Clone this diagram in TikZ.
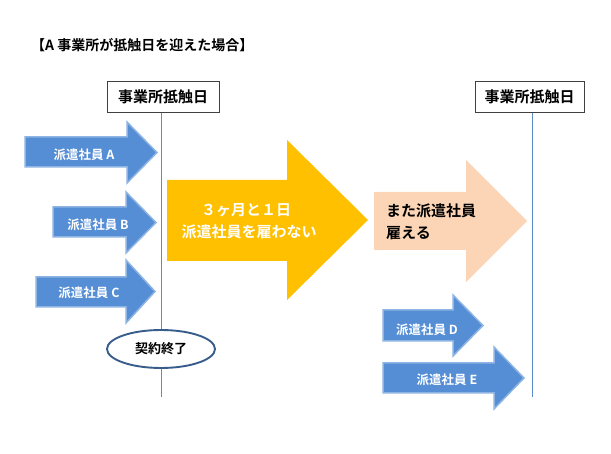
\documentclass[tikz,border=0pt]{standalone}
\usepackage{fontspec}
\usetikzlibrary{shapes.geometric}
\newfontfamily\jp{Noto Sans CJK JP}[BoldFont={Noto Sans CJK JP Bold}]
\definecolor{arrowblue}{HTML}{558ED5}
\definecolor{arrowedge}{HTML}{8EB4E3}
\definecolor{gold}{HTML}{FFC000}
\definecolor{peach}{HTML}{FBD5B5}
\definecolor{lineblue}{HTML}{5B8BC9}
\definecolor{ellblue}{HTML}{385D8A}
\newcommand\harrow[8]{\draw[#1] (#2,#3) -- (#5,#3) -- (#5,#6) -- (#8,{(#6+#7)/2}) -- (#5,#7) -- (#5,#4) -- (#2,#4) -- cycle;}
\tikzset{
  bluearr/.style={fill=arrowblue, draw=arrowedge, line width=1.5pt, line join=miter},
  goldarr/.style={fill=gold, draw=none},
  peacharr/.style={fill=peach, draw=none},
  small/.style={font=\jp\bfseries\fontsize{12.5}{14}\selectfont, text=white, inner sep=0pt},
  bigtxt/.style={font=\jp\bfseries\fontsize{15}{17}\selectfont, inner sep=0pt},
  datebox/.style={draw=black!75, line width=0.9pt, fill=white, minimum height=31pt, inner sep=0pt, font=\jp\bfseries\fontsize{15}{17}\selectfont},
  vline/.style={draw=lineblue, line width=0.9pt},
}
\begin{document}
\begin{tikzpicture}[x=1pt,y=-1pt]
\useasboundingbox (0,0) rectangle (611,454);
\node[anchor=west, font=\jp\bfseries\fontsize{14}{16}\selectfont, inner sep=0pt] (title) at (31,45) {【A 事業所が抵触日を迎えた場合】};
% timelines
\coordinate (l1top) at (161,112);
\coordinate (l1bot) at (161,397);
\coordinate (l2top) at (532,113);
\coordinate (l2bot) at (532,397);
\draw[vline] (l1top) -- (l1bot);
\draw[vline] (l2top) -- (l2bot);
\node[datebox, minimum width=112pt] (boxL) at (163,96.5) {事業所抵触日};
\node[datebox, minimum width=109pt] (boxR) at (529.5,97) {事業所抵触日};
% arrows
\harrow{bluearr}{25}{137}{167}{127}{122}{183}{157}
\harrow{bluearr}{53}{207}{237}{126}{192}{253}{156}
\harrow{bluearr}{36}{277}{307}{126}{260}{323}{155}
\harrow{goldarr}{167}{180}{261}{287}{140}{300}{368}
\harrow{peacharr}{374}{192}{250}{466}{160}{282}{527}
\harrow{bluearr}{383}{310}{341}{453}{295}{356}{483}
\harrow{bluearr}{383}{363}{393}{494}{347}{409}{524}
% labels
\node[small] (la) at (84,155) {派遣社員 A};
\node[small] (lb) at (98,225) {派遣社員 B};
\node[small] (lc) at (89,293) {派遣社員 C};
\node[small] (ld) at (427,330) {派遣社員 D};
\node[small] (le) at (447,380) {派遣社員 E};
\node[bigtxt, text=white] (y1) at (246,210) {３ヶ月と１日};
\node[bigtxt, text=white] (y2) at (249,232) {派遣社員を雇わない};
\node[bigtxt, anchor=west] (p1) at (386,211) {また派遣社員};
\node[bigtxt, anchor=west] (p2) at (386,233) {雇える};
% ellipse
\node[ellipse, draw=ellblue, line width=1.9pt, fill=white, minimum width=108pt, minimum height=38pt, inner sep=0pt, font=\jp\bfseries\fontsize{13}{15}\selectfont] (end) at (161,349) {契約終了};
\end{tikzpicture}
\end{document}
